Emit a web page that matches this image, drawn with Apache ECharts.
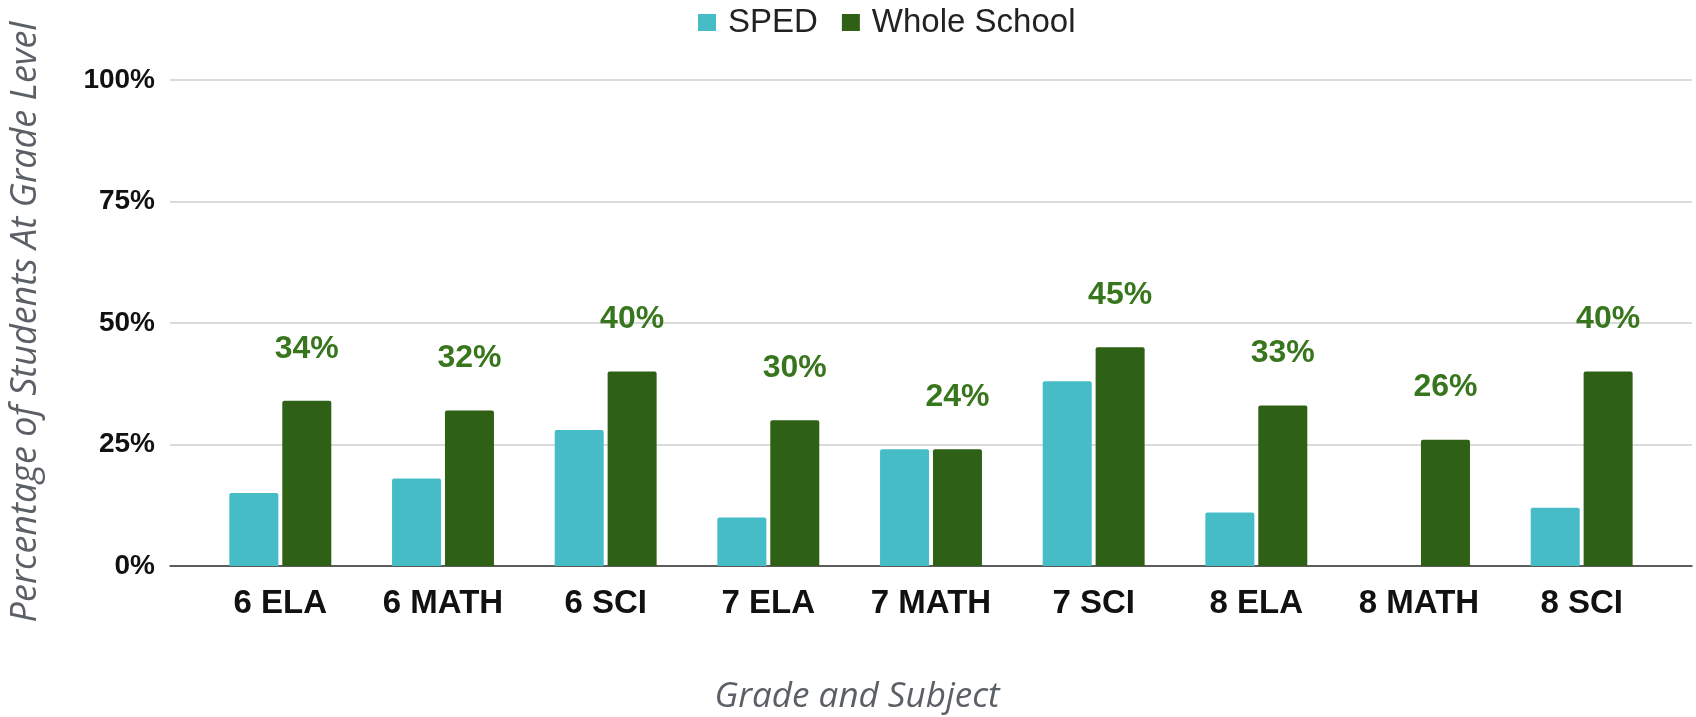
<!DOCTYPE html>
<html>
<head>
<meta charset="utf-8">
<script src="https://cdn.jsdelivr.net/npm/echarts@6/dist/echarts.min.js"></script>
<style>
  html, body { margin: 0; padding: 0; background: #fff; }
  #main { width: 1696px; height: 717px; }
</style>
</head>
<body>
<div id="main"></div>
<script>
// grade / subject groups
const categories = ['6 ELA', '6 MATH', '6 SCI', '7 ELA', '7 MATH', '7 SCI', '8 ELA', '8 MATH', '8 SCI']
// percent at grade level
const spedValues = [15, 18, 28, 10, 24, 38, 11, null, 12]
const wholeSchoolValues = [34, 32, 40, 30, 24, 45, 33, 26, 40]
const yTicks = [0, 25, 50, 75, 100]

const labelFont = 'Arial, "Liberation Sans", sans-serif'
const titleFont = '"Open Sans", "Noto Sans", sans-serif'

const chart = echarts.init(document.getElementById('main'))
chart.setOption({
  animation: false,
  legend: {
    data: ['SPED', 'Whole School'],
    left: 693,
    top: 1,
    icon: 'rect',
    itemWidth: 18,
    itemHeight: 17,
    itemGap: 24,
    textStyle: {
      fontFamily: labelFont,
      fontSize: 33,
      color: '#222',
      padding: [0, 0, 0, 7]
    }
  },
  grid: [
    // gridlines span wider than the bars
    { left: 170, right: 4, top: 80, bottom: 151 },
    { left: 199, right: 33, top: 80, bottom: 151 }
  ],
  xAxis: [
    {
      gridIndex: 0,
      type: 'value',
      min: 0,
      max: 1,
      axisLine: { show: true, lineStyle: { color: '#333', width: 1.5 } },
      axisTick: { show: false },
      axisLabel: { show: false },
      splitLine: { show: false }
    },
    {
      gridIndex: 1,
      type: 'category',
      data: categories,
      axisLine: { show: false },
      axisTick: { show: false },
      axisLabel: {
        margin: 21,
        fontFamily: labelFont,
        fontSize: 33,
        fontWeight: 'bold',
        color: '#111'
      }
    }
  ],
  yAxis: [
    {
      gridIndex: 0,
      type: 'value',
      min: yTicks[0],
      max: yTicks[yTicks.length - 1],
      interval: yTicks[1] - yTicks[0],
      axisLine: { show: false },
      axisTick: { show: false },
      axisLabel: {
        margin: 15,
        formatter: v => v + '%',
        fontFamily: labelFont,
        fontSize: 28,
        fontWeight: 'bold',
        color: '#111'
      },
      splitLine: { lineStyle: { color: '#cfcfcf', width: 1.5 } }
    },
    {
      gridIndex: 1,
      type: 'value',
      min: yTicks[0],
      max: yTicks[yTicks.length - 1],
      show: false
    }
  ],
  series: [
    {
      name: 'SPED',
      type: 'bar',
      xAxisIndex: 1,
      yAxisIndex: 1,
      data: spedValues,
      barWidth: 49,
      barGap: '8%',
      itemStyle: { color: '#46bdc6', borderRadius: [2, 2, 0, 0] }
    },
    {
      name: 'Whole School',
      type: 'bar',
      xAxisIndex: 1,
      yAxisIndex: 1,
      data: wholeSchoolValues,
      barWidth: 49,
      barGap: '8%',
      itemStyle: { color: '#2e6015', borderRadius: [2, 2, 0, 0] },
      label: {
        show: true,
        position: 'top',
        distance: 36,
        formatter: '{c}%',
        fontFamily: labelFont,
        fontSize: 32,
        fontWeight: 'bold',
        color: '#38761d'
      }
    }
  ],
  graphic: [
    {
      type: 'text',
      x: 26,
      y: 322,
      rotation: Math.PI / 2,
      style: {
        text: 'Percentage of Students At Grade Level',
        fontFamily: titleFont,
        fontStyle: 'italic',
        fontSize: 36,
        fill: '#5b5f66',
        align: 'center',
        verticalAlign: 'middle'
      }
    },
    {
      type: 'text',
      x: 857,
      y: 697,
      style: {
        text: 'Grade and Subject',
        fontFamily: titleFont,
        fontStyle: 'italic',
        fontSize: 35,
        fill: '#5b5f66',
        align: 'center',
        verticalAlign: 'middle'
      }
    }
  ]
})
window.addEventListener('resize', () => {
  chart.resize()
})
</script>
</body>
</html>
